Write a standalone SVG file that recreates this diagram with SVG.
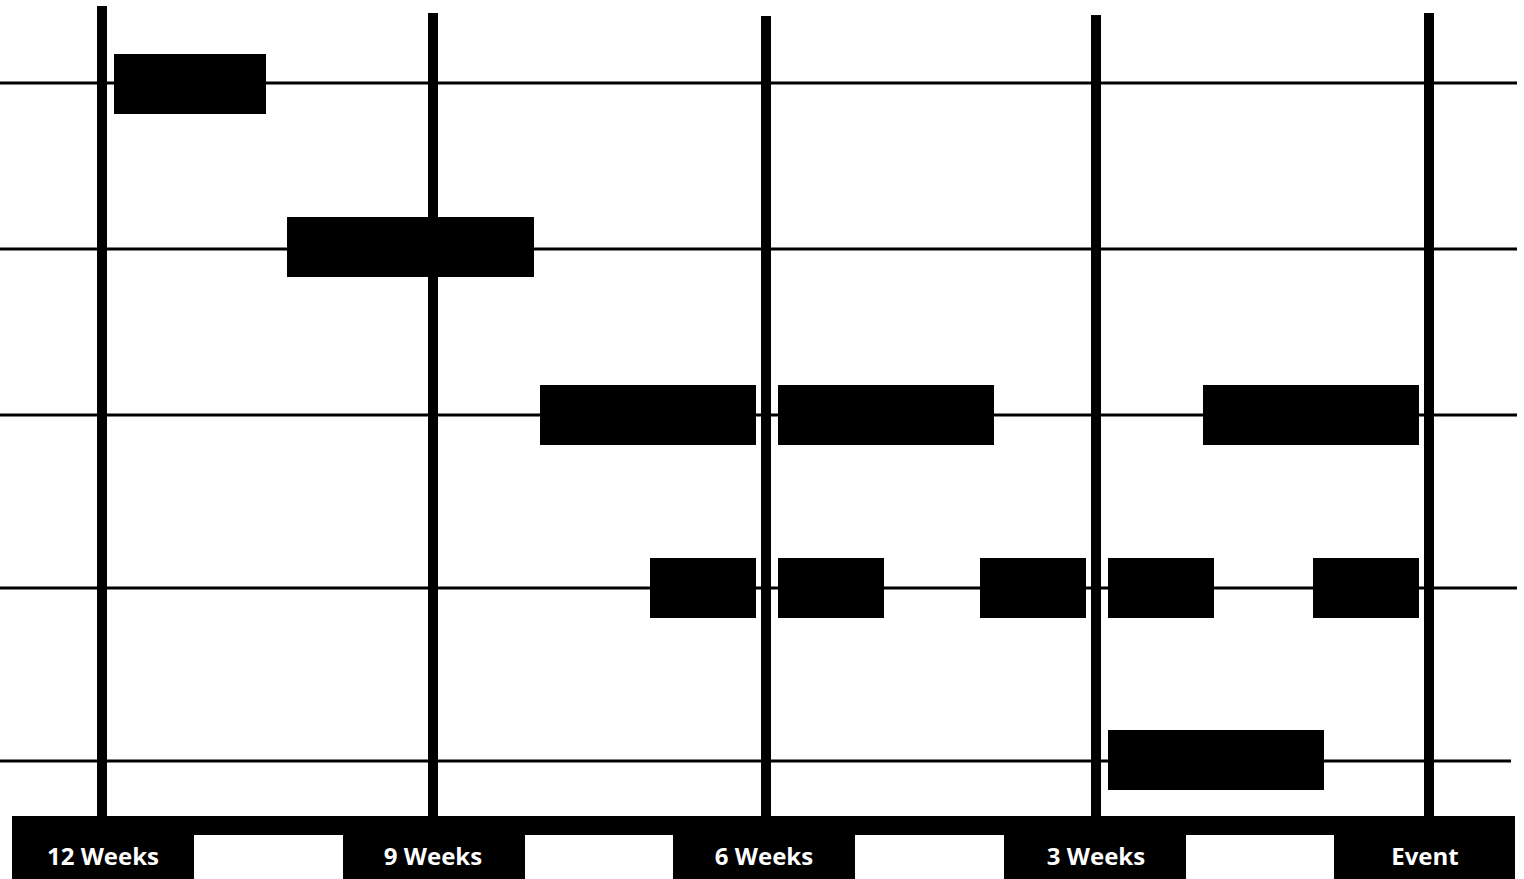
<svg xmlns="http://www.w3.org/2000/svg" width="1524" height="879" viewBox="0 0 1524 879">
<style>
.h{stroke:#000;stroke-width:3}
.v{stroke:#000;stroke-width:10}
.b{fill:#000}
.lbl{fill:#fff;font-family:"Open Sans","Liberation Sans",sans-serif;font-weight:bold;font-size:24px;text-anchor:middle}
</style>
<rect width="1524" height="879" fill="#fff"/>
<g id="rows">
<line class="h" x1="0" y1="83" x2="1517" y2="83"/>
<line class="h" x1="0" y1="249" x2="1517" y2="249"/>
<line class="h" x1="0" y1="415" x2="1517" y2="415"/>
<line class="h" x1="0" y1="588" x2="1517" y2="588"/>
<line class="h" x1="0" y1="761" x2="1511" y2="761"/>
</g>
<g id="weeks">
<line class="v" x1="102" y1="6" x2="102" y2="820"/>
<line class="v" x1="433" y1="13" x2="433" y2="820"/>
<line class="v" x1="766" y1="16" x2="766" y2="820"/>
<line class="v" x1="1096" y1="15" x2="1096" y2="820"/>
<line class="v" x1="1429" y1="13" x2="1429" y2="820"/>
</g>
<g id="axis">
<rect class="b" x="12" y="816" width="1503" height="63"/>
<rect fill="#fff" x="194" y="835" width="149" height="44"/>
<rect fill="#fff" x="525" y="835" width="148" height="44"/>
<rect fill="#fff" x="855" y="835" width="149" height="44"/>
<rect fill="#fff" x="1186" y="835" width="148" height="44"/>
<text class="lbl" x="103" y="865">12 Weeks</text>
<text class="lbl" x="433" y="865">9 Weeks</text>
<text class="lbl" x="764" y="865">6 Weeks</text>
<text class="lbl" x="1096" y="865">3 Weeks</text>
<text class="lbl" x="1425" y="865">Event</text>
</g>
<g id="bars">
<rect class="b" x="114" y="54" width="152" height="60"/>
<rect class="b" x="287" y="217" width="247" height="60"/>
<rect class="b" x="540" y="385" width="216" height="60"/>
<rect class="b" x="778" y="385" width="216" height="60"/>
<rect class="b" x="1203" y="385" width="216" height="60"/>
<rect class="b" x="650" y="558" width="106" height="60"/>
<rect class="b" x="778" y="558" width="106" height="60"/>
<rect class="b" x="980" y="558" width="106" height="60"/>
<rect class="b" x="1108" y="558" width="106" height="60"/>
<rect class="b" x="1313" y="558" width="106" height="60"/>
<rect class="b" x="1108" y="730" width="216" height="60"/>
</g>
</svg>
